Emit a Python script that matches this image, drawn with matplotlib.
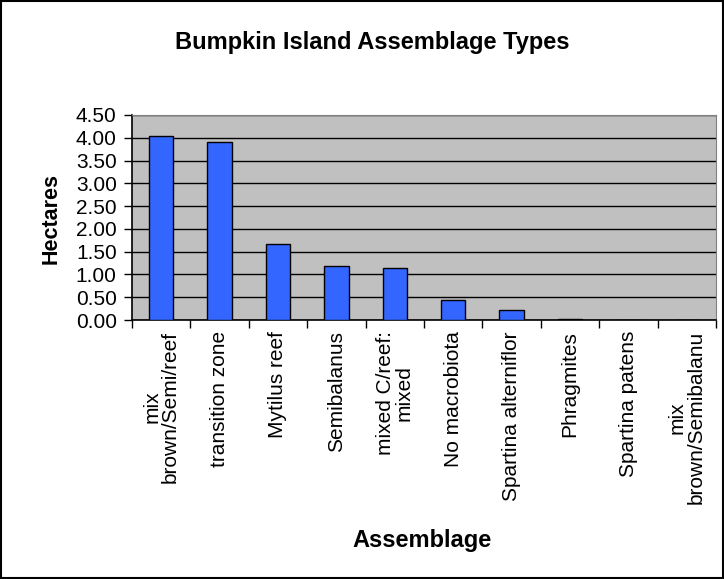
import numpy as np
import matplotlib.pyplot as plt
from matplotlib.patches import Rectangle

plt.rcParams['font.family'] = ['Liberation Sans', 'DejaVu Sans']

# Data
categories = ['mix\nbrown/Semi/reef', 'transition zone', 'Mytilus reef', 'Semibalanus',
              'mixed C/reef:\nmixed', 'No macrobiota', 'Spartina alterniflor', 'Phragmites',
              'Spartina patens', 'mix\nbrown/Semibalanu']
hectares = [4.04, 3.91, 1.67, 1.18, 1.14, 0.43, 0.21, 0.03, 0.0, 0.0]
yticks = np.arange(0, 4.51, 0.5)

fig = plt.figure(figsize=(7.24, 5.79), dpi=100)
ax = fig.add_axes([0.1823, 0.4473, 0.8066, 0.3541])
ax.set_facecolor('#C0C0C0')

x = np.arange(len(categories))
ax.bar(x, hectares, width=0.42, color='#3366FF', edgecolor='black', linewidth=1, zorder=3)

ax.set_xlim(-0.5, len(categories) - 0.5)
ax.set_ylim(0, 4.5)
ax.set_yticks(yticks)
ax.set_yticklabels([f'{v:.2f}' for v in yticks], fontsize=15)
ax.yaxis.grid(True, color='black', linewidth=1)
ax.set_axisbelow(True)

# ticks at category boundaries, labels at centres
ax.set_xticks(np.arange(len(categories) + 1) - 0.5)
ax.set_xticklabels([])
ax.set_xticks(x, minor=True)
ax.set_xticklabels(categories, minor=True, rotation=90, fontsize=15,
                   va='top', ha='center', multialignment='center', linespacing=1.0)
ax.tick_params(axis='x', which='minor', length=0, pad=8)
ax.tick_params(axis='x', which='major', length=6, width=1, direction='out')
ax.tick_params(axis='y', length=6, width=1, pad=5)

for side in ['top', 'right']:
    ax.spines[side].set_color('#808080')
for side in ['left', 'bottom']:
    ax.spines[side].set_color('black')
    ax.spines[side].set_linewidth(1.2)

fig.text(372 / 724, 1 - 43 / 579, 'Bumpkin Island Assemblage Types',
         fontsize=17, fontweight='bold', ha='center', va='center')
fig.text(51 / 724, 1 - 219 / 579, 'Hectares', rotation=90,
         fontsize=15.5, fontweight='bold', ha='center', va='center')
fig.text(422 / 724, 1 - 541 / 579, 'Assemblage',
         fontsize=17, fontweight='bold', ha='center', va='center')

fig.patches.append(Rectangle((0.001, 0.001), 0.997, 0.997, transform=fig.transFigure,
                             fill=False, edgecolor='black', linewidth=1.5))

fig.savefig('out.png', dpi=100)
